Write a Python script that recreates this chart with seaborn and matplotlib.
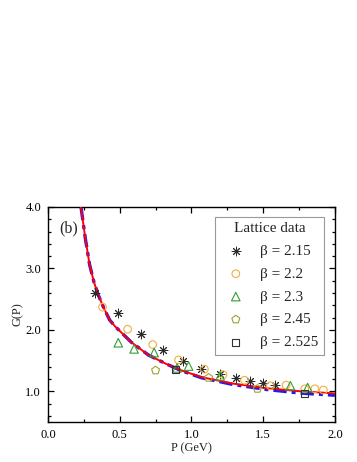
import matplotlib
matplotlib.use('Agg')
import matplotlib.pyplot as plt
from matplotlib.ticker import MultipleLocator, FormatStrFormatter
import seaborn as sns

# --- DATA ---
# fitted curves G(P)
curve_p = [0.23, 0.26, 0.29, 0.32, 0.35, 0.39, 0.43, 0.47, 0.51, 0.58,
           0.70, 0.82, 0.93, 1.07, 1.29, 1.52, 1.76, 2.00]
curve_red = [4.00, 3.49, 3.06, 2.78, 2.57, 2.35, 2.16, 2.05, 1.96, 1.80,
             1.59, 1.45, 1.34, 1.23, 1.125, 1.05, 1.00, 0.965]
curve_blue = [4.00, 3.49, 3.06, 2.78, 2.57, 2.35, 2.16, 2.05, 1.96, 1.80,
              1.59, 1.45, 1.335, 1.22, 1.11, 1.03, 0.97, 0.935]

# lattice data
p_215 = [0.33, 0.49, 0.65, 0.80, 0.94, 1.07, 1.20, 1.31, 1.41, 1.50, 1.58]
g_215 = [2.60, 2.28, 1.93, 1.67, 1.50, 1.37, 1.28, 1.21, 1.17, 1.13, 1.11]

p_22 = [0.38, 0.555, 0.73, 0.91, 1.09, 1.22, 1.37, 1.55, 1.66, 1.79, 1.86, 1.92]
g_22 = [2.37, 2.01, 1.76, 1.51, 1.36, 1.27, 1.18, 1.09, 1.10, 1.04, 1.04, 1.02]

p_23 = [0.49, 0.60, 0.74, 0.90, 0.98, 1.20, 1.69, 1.81]
g_23 = [1.79, 1.69, 1.63, 1.38, 1.41, 1.25, 1.09, 1.06]

p_245 = [0.75, 1.12, 1.46]
g_245 = [1.34, 1.22, 1.04]

p_2525 = [0.89, 1.79]
g_2525 = [1.35, 0.96]

series = [
    (p_215, g_215, 'β = 2.15', (8, 2, 0), '#2a2a2a', 40),
    (p_22, g_22, 'β = 2.2', 'o', '#F0B040', 30),
    (p_23, g_23, 'β = 2.3', '^', '#30A030', 38),
    (p_245, g_245, 'β = 2.45', 'p', '#A0A030', 36),
    (p_2525, g_2525, 'β = 2.525', 's', '#333333', 24),
]

sns.set_style("ticks")
plt.rcParams['font.family'] = ['Liberation Serif', 'DejaVu Serif']

fig = plt.figure(figsize=(3.57, 4.62), dpi=100)
ax = fig.add_axes([0.1345, 0.0866, 0.8035, 0.4654])

# curves
sns.lineplot(x=curve_p, y=curve_blue, ax=ax, color='#1a1aff', lw=2.4,
             linestyle=(0, (4, 1.5, 1.2, 1.5)), sort=False, legend=False, zorder=2)
sns.lineplot(x=curve_p, y=curve_red, ax=ax, color='red', lw=1.4,
             sort=False, legend=False, zorder=3)

# lattice points
for px, gy, lab, mk, col, sz in series:
    if mk == (8, 2, 0):
        sns.scatterplot(x=px, y=gy, ax=ax, marker=mk, s=sz, color=col,
                        linewidth=0.7, label=lab, zorder=4)
    else:
        sns.scatterplot(x=px, y=gy, ax=ax, marker=mk, s=sz, facecolors='none',
                        edgecolor=col, linewidth=0.8, label=lab, zorder=4)

ax.set_xlim(0, 2.0)
ax.set_ylim(0.5, 4.0)
ax.xaxis.set_major_locator(MultipleLocator(0.5))
ax.xaxis.set_minor_locator(MultipleLocator(0.25))
ax.yaxis.set_major_locator(MultipleLocator(1.0))
ax.yaxis.set_minor_locator(MultipleLocator(0.2))
ax.xaxis.set_major_formatter(FormatStrFormatter('%.1f'))
ax.yaxis.set_major_formatter(FormatStrFormatter('%.1f'))
ax.tick_params(which='both', direction='in', top=True, right=True,
               width=0.9, labelsize=9, colors='black')
ax.tick_params(which='major', length=4, pad=5)
ax.tick_params(which='minor', length=2)
for sp in ax.spines.values():
    sp.set_linewidth(1.0)
    sp.set_color('black')

ax.set_xlabel('P (GeV)', fontsize=9, labelpad=1)
ax.set_ylabel('G(P)', fontsize=9, labelpad=1)
ax.text(0.04, 0.90, '(b)', transform=ax.transAxes, fontsize=11.5, va='center')

leg = ax.legend(title='Lattice data', loc='upper right', bbox_to_anchor=(0.962, 0.955),
                fontsize=11, title_fontsize=11, frameon=True, fancybox=False,
                edgecolor='#808080', labelspacing=0.6, handletextpad=0.6,
                borderpad=0.35, handlelength=2.0, borderaxespad=0)
leg.get_frame().set_linewidth(0.8)

fig.savefig('out.png', dpi=100, facecolor='white')
